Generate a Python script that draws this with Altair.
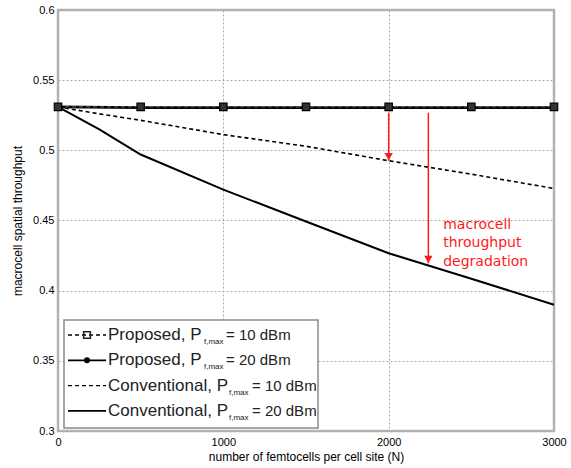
import altair as alt
import pandas as pd

# ---------------- data ----------------
N_PROP = [0, 500, 1000, 1500, 2000, 2500, 3000]
PROPOSED_10 = [0.531, 0.531, 0.531, 0.531, 0.531, 0.531, 0.531]
PROPOSED_20 = [0.531, 0.5305, 0.5305, 0.5305, 0.5305, 0.5305, 0.5305]

N_CONV = [0, 250, 500, 1000, 1500, 2000, 2500, 3000]
CONVENTIONAL_10 = [0.531, 0.526, 0.5214, 0.5112, 0.5029, 0.4926, 0.483, 0.4728]
CONVENTIONAL_20 = [0.531, 0.515, 0.497, 0.472, 0.4493, 0.4267, 0.4085, 0.390]

ARROW_X = [2000, 2240]
ARROW_TOP = [0.5268, 0.5268]
ARROW_TIP = [0.4926, 0.4195]
ANNOT_X = [2330]
ANNOT_Y = [0.4471]
ANNOT_TEXT = ["macrocell\nthroughput\ndegradation"]

LEG_MAIN = ["Proposed, P", "Proposed, P", "Conventional, P", "Conventional, P"]
LEG_SUB = ["f,max", "f,max", "f,max", "f,max"]
LEG_EQ = ["= 10 dBm", "= 20 dBm", "= 10 dBm", "= 20 dBm"]

X_TICKS = [0, 1000, 2000, 3000]
Y_TICKS = [0.3, 0.35, 0.4, 0.45, 0.5, 0.55, 0.6]

# ---------------- layout ----------------
W, H = 496, 421
XMIN, XMAX, YMIN, YMAX = 0, 3000, 0.3, 0.6
FONT = "Liberation Sans"


def px2x(px):
    return XMIN + px / W * (XMAX - XMIN)


def px2y(py):
    return YMAX - py / H * (YMAX - YMIN)


xs = alt.Scale(domain=[XMIN, XMAX], nice=False, zero=False)
ys = alt.Scale(domain=[YMIN, YMAX], nice=False, zero=False)
x_axis = alt.Axis(values=X_TICKS, title="number of femtocells per cell site (N)",
                  grid=True, ticks=False, domain=False, labelPadding=5,
                  titlePadding=4, format="d", labelFlush=False)
y_axis = alt.Axis(values=Y_TICKS, title="macrocell spatial throughput",
                  grid=True, ticks=False, domain=False, labelPadding=4,
                  titlePadding=8, format=".2~f", labelFlush=False)

X = lambda f: alt.X(f, type="quantitative", scale=xs, axis=x_axis)
Y = lambda f: alt.Y(f, type="quantitative", scale=ys, axis=y_axis)

conv = pd.DataFrame({"N": N_CONV, "c10": CONVENTIONAL_10, "c20": CONVENTIONAL_20})
prop = pd.DataFrame({"N": N_PROP, "p10": PROPOSED_10, "p20": PROPOSED_20})

c20 = alt.Chart(conv).mark_line(color="black", strokeWidth=2).encode(x=X("N"), y=Y("c20"))
c10 = alt.Chart(conv).mark_line(color="black", strokeWidth=1.6, strokeDash=[4, 3]).encode(
    x=X("N"), y=Y("c10"))
p20 = alt.Chart(prop).mark_line(color="black", strokeWidth=2.8).encode(x=X("N"), y=Y("p20"))
p20pts = alt.Chart(prop).mark_point(shape="circle", filled=True, color="black", size=50,
                                     opacity=1).encode(x=X("N"), y=Y("p20"))
p10 = alt.Chart(prop).mark_line(color="#555", strokeWidth=1.4, strokeDash=[4, 3]).encode(
    x=X("N"), y=Y("p10"))
p10pts = alt.Chart(prop).mark_point(shape="square", filled=True, fill="#333", stroke="black",
                                     size=55, strokeWidth=1.2, opacity=1).encode(
    x=X("N"), y=Y("p10"))

# arrows and annotation
arr = pd.DataFrame({"x": ARROW_X, "top": ARROW_TOP, "tip": ARROW_TIP})
arrow_lines = alt.Chart(arr).mark_rule(color="#ff1a1a", strokeWidth=1.5).encode(
    x=X("x"), y=Y("top"), y2="tip")
arrow_heads = alt.Chart(arr).mark_point(
    shape="triangle-down", filled=True, color="#ff1a1a", size=70, opacity=1, yOffset=-4
).encode(x=X("x"), y=Y("tip"))

ann = pd.DataFrame({"x": ANNOT_X, "y": ANNOT_Y, "t": ANNOT_TEXT})
annot = alt.Chart(ann).mark_text(
    align="left", baseline="middle", color="#ff1a1a", font="DejaVu Sans", fontSize=14,
    lineBreak="\n", lineHeight=18.5
).encode(x=X("x"), y=Y("y"), text="t:N")

# legend (drawn by hand, to carry the subscripts)
box = pd.DataFrame({"x": [px2x(6)], "x2": [px2x(260)], "y": [px2y(310)], "y2": [px2y(418)]})
leg_box = alt.Chart(box).mark_rect(fill="white", stroke="#8a8a8a", strokeWidth=1.5).encode(
    x=X("x"), x2="x2", y=Y("y"), y2="y2")

row_y = [325 + i * 25.3 for i in range(4)]
sub_px = [146 if m.startswith("Proposed") else 171 for m in LEG_MAIN]
eq_px = [168 if m.startswith("Proposed") else 194 for m in LEG_MAIN]
leg = pd.DataFrame({
    "main": LEG_MAIN, "sub": LEG_SUB, "eq": LEG_EQ,
    "y": [px2y(v) for v in row_y],
    "ysub": [px2y(v + 7) for v in row_y],
    "xt": [px2x(50)] * 4,
    "xs": [px2x(v) for v in sub_px],
    "xe": [px2x(v) for v in eq_px],
    "l0": [px2x(10)] * 4, "l1": [px2x(48)] * 4, "lm": [px2x(29)] * 4,
    "row": [0, 1, 2, 3],
})
leg_main = alt.Chart(leg).mark_text(align="left", baseline="middle", font=FONT, fontSize=17,
                                    color="#222").encode(x=X("xt"), y=Y("y"), text="main:N")
leg_sub = alt.Chart(leg).mark_text(align="left", baseline="middle", font=FONT, fontSize=8,
                                   color="#222").encode(x=X("xs"), y=Y("ysub"), text="sub:N")
leg_eq = alt.Chart(leg).mark_text(align="left", baseline="middle", font=FONT, fontSize=15,
                                  color="#222").encode(x=X("xe"), y=Y("y"), text="eq:N")
leg_dash = alt.Chart(leg).transform_filter("datum.row == 0 || datum.row == 2").mark_rule(
    color="black", strokeWidth=1.3, strokeDash=[4, 3]).encode(x=X("l0"), x2="l1", y=Y("y"))
leg_solid = alt.Chart(leg).transform_filter("datum.row == 1 || datum.row == 3").mark_rule(
    color="black", strokeWidth=1.8).encode(x=X("l0"), x2="l1", y=Y("y"))
leg_sq = alt.Chart(leg).transform_filter("datum.row == 0").mark_point(
    shape="square", filled=False, color="#222", size=45, strokeWidth=1.5, opacity=1
).encode(x=X("lm"), y=Y("y"))
leg_ci = alt.Chart(leg).transform_filter("datum.row == 1").mark_point(
    shape="circle", filled=True, color="black", size=35, opacity=1
).encode(x=X("lm"), y=Y("y"))

chart = alt.layer(
    c20, c10, p20, p10, p20pts, p10pts, arrow_lines, arrow_heads, annot,
    leg_box, leg_dash, leg_solid, leg_sq, leg_ci, leg_main, leg_sub, leg_eq
).properties(
    width=W, height=H,
    autosize=alt.AutoSizeParams(type="none"),
    padding={"left": 58, "top": 10, "right": 17, "bottom": 37},
    background="white",
).configure_view(
    stroke="#b5b5b5", strokeWidth=2.5
).configure_axis(
    labelFont=FONT, labelFontSize=11, labelColor="black",
    titleFont=FONT, titleFontSize=12, titleColor="black", titleFontWeight="normal",
    gridColor="#a8a8a8", gridDash=[2, 2], gridWidth=1, gridOpacity=1,
)

chart.save("out.html", embed_options={"renderer": "svg", "actions": False})
